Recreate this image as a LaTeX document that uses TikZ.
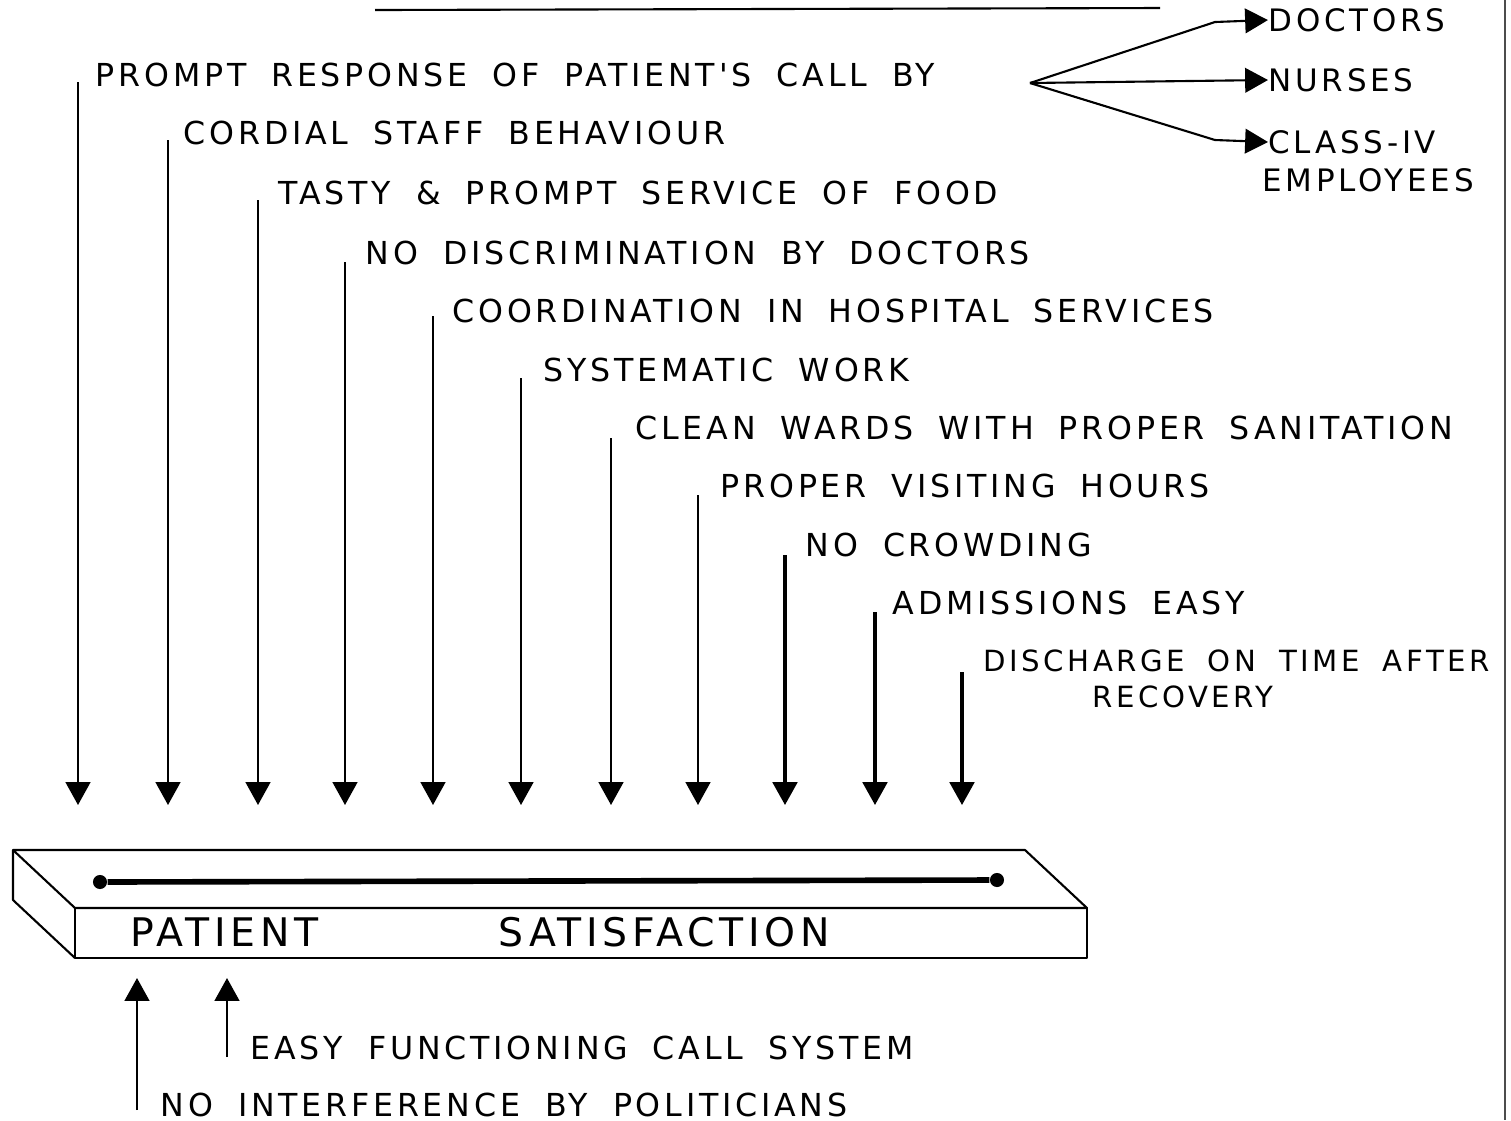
\documentclass[tikz,border=0pt]{standalone}
\usepackage{fontspec}
\newfontfamily\handfont[LetterSpace=12,WordSpace=1.8]{DejaVu Sans}
\usetikzlibrary{arrows.meta,calc}
\tikzset{>={Triangle[length=6.5pt,width=7pt]}}
\tikzstyle{factor}=[anchor=west,inner sep=0pt,font=\handfont\fontsize{9}{11}\selectfont]
\tikzstyle{slabtext}=[anchor=west,inner sep=0pt,font=\handfont\fontsize{11.2}{13}\selectfont]
\tikzstyle{down}=[->,line width=0.7pt]
\tikzstyle{dot}=[circle,fill=black,inner sep=0pt,minimum size=4pt]

\begin{document}
\begin{tikzpicture}[x=0.01cm,y=-0.01cm,line join=round]
	\useasboundingbox (0,0) rectangle (1511,1120);
	% title rule (title itself is cut off) and page edge
	\draw[line width=0.6pt] (375,10) -- (1160,8);
	\draw[line width=0.4pt,black!70] (1505,0) -- (1505,1120);

	% factors pointing down
	\node[factor] (prompt) at (95,75) {PROMPT RESPONSE OF PATIENT'S CALL BY};
	\node[factor] (cordial) at (183,133) {CORDIAL STAFF BEHAVIOUR};
	\node[factor] (tasty) at (278,193) {TASTY \& PROMPT SERVICE OF FOOD};
	\node[factor] (nodisc) at (365,253) {NO DISCRIMINATION BY DOCTORS};
	\node[factor] (coord) at (452,311) {COORDINATION IN HOSPITAL SERVICES};
	\node[factor] (system) at (543,370) {SYSTEMATIC WORK};
	\node[factor] (clean) at (635,428) {CLEAN WARDS WITH PROPER SANITATION};
	\node[factor] (visit) at (720,486) {PROPER VISITING HOURS};
	\node[factor] (crowd) at (805,545) {NO CROWDING};
	\node[factor] (admit) at (892,603) {ADMISSIONS EASY};
	\node[factor,font=\handfont\fontsize{8.3}{10}\selectfont] (discharge) at (983,661) {DISCHARGE ON TIME AFTER};
	\node[factor,anchor=center,font=\handfont\fontsize{8.3}{10}\selectfont] (recovery) at (1183,697) {RECOVERY};

	\coordinate (base) at (0,805);
	\coordinate (t1) at (78,82);
	\coordinate (t2) at (168,140);
	\coordinate (t3) at (258,200);
	\coordinate (t4) at (345,262);
	\coordinate (t5) at (433,316);
	\coordinate (t6) at (521,378);
	\coordinate (t7) at (611,438);
	\coordinate (t8) at (698,495);
	\coordinate (t9) at (785,555);
	\coordinate (t10) at (875,612);
	\coordinate (t11) at (962,672);

	\draw[down] (t1) -- (t1 |- base);
	\draw[down] (t2) -- (t2 |- base);
	\draw[down] (t3) -- (t3 |- base);
	\draw[down] (t4) -- (t4 |- base);
	\draw[down] (t5) -- (t5 |- base);
	\draw[down] (t6) -- (t6 |- base);
	\draw[down] (t7) -- (t7 |- base);
	\draw[down] (t8) -- (t8 |- base);
	\draw[down,line width=0.9pt] (t9) -- (t9 |- base);
	\draw[down,line width=0.9pt] (t10) -- (t10 |- base);
	\draw[down,line width=0.9pt] (t11) -- (t11 |- base);

	% call answered by
	\node[factor,font=\handfont\fontsize{8.8}{10}\selectfont] (doctors) at (1268,20) {DOCTORS};
	\node[factor,font=\handfont\fontsize{8.8}{10}\selectfont] (nurses) at (1268,80) {NURSES};
	\node[factor,font=\handfont\fontsize{8.8}{10}\selectfont] (classiv) at (1268,142) {CLASS-IV};
	\node[factor,font=\handfont\fontsize{8.8}{10}\selectfont] (employees) at (1262,180) {EMPLOYEES};
	\coordinate (fan) at (1030,83);
	\coordinate (k1) at (1215,22);
	\coordinate (k3) at (1215,140);
	\draw[down,line width=0.6pt] (fan) -- (k1) -- (doctors.west);
	\draw[down,line width=0.6pt] (fan) -- (nurses.west);
	\draw[down,line width=0.6pt] (fan) -- (k3) -- (classiv.west);

	% the slab
	\draw[line width=0.6pt] (13,850) -- (1025,850) -- (1087,908) -- (75,908) -- cycle;
	\draw[line width=0.6pt] (75,908) rectangle (1087,958);
	\draw[line width=0.6pt] (13,850) -- (13,900) -- (75,958);
	\node[dot] (barL) at (100,882) {};
	\node[dot] (barR) at (997,880) {};
	\draw[line width=1.6pt] (barL) -- (barR);
	\node[slabtext] (patient) at (130,932) {PATIENT};
	\node[slabtext] (satisf) at (498,932) {SATISFACTION};

	% factors pointing up
	\node[factor] (callsys) at (250,1048) {EASY FUNCTIONING CALL SYSTEM};
	\node[factor] (politic) at (160,1105) {NO INTERFERENCE BY POLITICIANS};
	\coordinate (top) at (0,978);
	\coordinate (u1) at (137,1110);
	\coordinate (u2) at (227,1057);
	\draw[down] (u1) -- (u1 |- top);
	\draw[down] (u2) -- (u2 |- top);
\end{tikzpicture}
\end{document}
